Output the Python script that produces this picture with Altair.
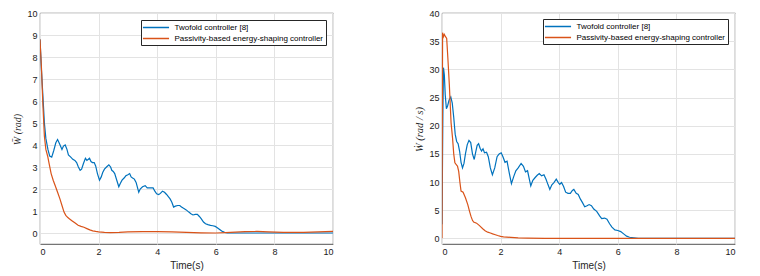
import altair as alt
import pandas as pd

SERIES = ["Twofold controller [8]", "Passivity-based energy-shaping controller"]
COLORS = ["#0072BD", "#D95319"]
X_TICKS = [0, 2, 4, 6, 8, 10]
LEFT_Y_TICKS = [0, 1, 2, 3, 4, 5, 6, 7, 8, 9, 10]
RIGHT_Y_TICKS = [0, 5, 10, 15, 20, 25, 30, 35, 40]
LEFT_Y_TITLE = "W\u0304 (rad)"
RIGHT_Y_TITLE = "\u1E86 (rad / s)"
X_TITLE = "Time(s)"

# ---- left panel: W-bar ----
left_blue_t = [0, 0.05, 0.1, 0.15, 0.2, 0.27, 0.33, 0.4, 0.47, 0.54, 0.6, 0.67, 0.75, 0.8, 0.86,
               0.92, 0.97, 1.05, 1.12, 1.19, 1.25, 1.31, 1.37, 1.42, 1.48, 1.55, 1.6, 1.65, 1.69,
               1.74, 1.79, 1.85, 1.9, 1.96, 2.03, 2.09, 2.14, 2.2, 2.27, 2.35, 2.41, 2.45, 2.5,
               2.55, 2.62, 2.69, 2.74, 2.8, 2.87, 2.93, 3.0, 3.06, 3.11, 3.16, 3.22, 3.28, 3.33,
               3.37, 3.42, 3.5, 3.59, 3.66, 3.72, 3.79, 3.86, 3.92, 3.98, 4.05, 4.11, 4.18, 4.25,
               4.32, 4.38, 4.44, 4.5, 4.56, 4.62, 4.7, 4.77, 4.83, 4.9, 4.99, 5.08, 5.15, 5.22,
               5.3, 5.37, 5.44, 5.5, 5.58, 5.65, 5.73, 5.82, 5.9, 5.98, 6.04, 6.12, 6.2, 6.3,
               6.4, 7.0, 8.0, 9.0, 10.0]
left_blue_v = [8.8, 7.4, 6.2, 5.0, 4.3, 3.8, 3.5, 3.45, 3.75, 4.1, 4.25, 4.05, 3.8, 3.95, 4.0,
               3.8, 3.55, 3.45, 3.35, 3.3, 3.2, 3.0, 2.85, 2.9, 3.15, 3.4, 3.3, 3.35, 3.4,
               3.25, 3.2, 3.2, 3.05, 2.7, 2.4, 2.55, 2.75, 2.9, 3.0, 3.1, 3.0, 2.85, 2.8,
               2.7, 2.4, 2.1, 2.25, 2.4, 2.5, 2.6, 2.65, 2.7, 2.55, 2.5, 2.45, 2.3, 2.05,
               1.85, 2.0, 2.1, 2.15, 2.05, 2.05, 2.05, 2.05, 1.9, 1.78, 1.75, 1.8, 1.9, 1.85,
               1.75, 1.65, 1.55, 1.4, 1.18, 1.22, 1.25, 1.25, 1.18, 1.12, 1.05, 0.95, 0.88, 0.82,
               0.85, 0.85, 0.75, 0.65, 0.5, 0.42, 0.38, 0.35, 0.33, 0.3, 0.25, 0.17, 0.09, 0.03,
               0.01, 0.0, 0.0, 0.0, 0.0]
left_orange_t = [0, 0.05, 0.1, 0.15, 0.2, 0.26, 0.32, 0.38, 0.45, 0.52, 0.6, 0.68, 0.75, 0.82,
                 0.88, 0.95, 1.0, 1.1, 1.2, 1.3, 1.4, 1.5, 1.6, 1.7, 1.8, 1.9, 2.0, 2.2, 2.4,
                 2.7, 3.0, 3.5, 4.0, 4.5, 5.0, 5.5, 6.0, 6.5, 7.0, 7.4, 7.8, 8.3, 9.0, 9.5, 10.0]
left_orange_v = [8.8, 7.5, 5.8, 4.4, 3.8, 3.5, 3.1, 2.7, 2.4, 2.15, 1.85, 1.55, 1.25, 0.95,
                 0.8, 0.7, 0.65, 0.55, 0.45, 0.35, 0.3, 0.26, 0.2, 0.14, 0.1, 0.07, 0.05, 0.03, 0.02,
                 0.03, 0.05, 0.06, 0.06, 0.05, 0.03, 0.01, 0.0, 0.03, 0.06, 0.07, 0.05, 0.03, 0.03, 0.05, 0.07]

# ---- right panel: W-dot ----
right_blue_t = [0, 0.03, 0.05, 0.08, 0.11, 0.15, 0.19, 0.24, 0.3, 0.35, 0.4, 0.45, 0.5, 0.55,
                0.6, 0.65, 0.7, 0.75, 0.8, 0.86, 0.92, 0.98, 1.04, 1.1, 1.15, 1.2, 1.25, 1.3,
                1.35, 1.4, 1.45, 1.52, 1.58, 1.65, 1.72, 1.8, 1.88, 1.95, 2.02, 2.08, 2.15, 2.22,
                2.3, 2.37, 2.45, 2.52, 2.6, 2.7, 2.78, 2.85, 2.92, 2.98, 3.03, 3.1, 3.18, 3.25,
                3.32, 3.4, 3.48, 3.55, 3.62, 3.68, 3.75, 3.82, 3.9, 3.97, 4.02, 4.08, 4.15, 4.22,
                4.3, 4.38, 4.45, 4.5, 4.58, 4.65, 4.72, 4.8, 4.87, 4.95, 5.02, 5.1, 5.18, 5.28,
                5.38, 5.45, 5.55, 5.63, 5.72, 5.8, 5.9, 6.0, 6.1, 6.2, 6.3, 6.4, 6.55, 6.7, 8.0, 10.0]
right_blue_v = [2.5, 22, 30.3, 29, 25.5, 23, 23.5, 24.5, 25.1, 24, 21.5, 18.5, 17.2, 16.8,
                15.5, 13.5, 12.5, 13.3, 15, 16.6, 17.4, 17, 15, 14, 15.3, 16.5, 16.8, 16,
                15.5, 15.9, 15.2, 15.3, 14.5, 12.5, 11.3, 12.5, 14.5, 15, 15.2, 14.5, 13.5, 13.7,
                11.5, 9.7, 11, 12, 12.5, 13.3, 12.8, 11.8, 12, 10.5, 9.3, 10.3, 10.8, 11.2,
                11.5, 11.1, 11.3, 10.5, 9.5, 8.7, 9.5, 9.9, 10.5, 9.9, 9.6, 9.9, 9.2, 8.2,
                8.0, 8.0, 8.5, 8.7, 8.0, 7.8, 7.0, 6.3, 5.6, 5.8, 6.0, 5.8, 5.2, 4.8,
                4.0, 3.5, 3.6, 3.4, 2.6, 2.0, 1.5, 1.4, 1.2, 0.8, 0.4, 0.2, 0.1, 0.0, 0.0, 0.0]
right_orange_t = [0, 0.02, 0.05, 0.08, 0.12, 0.16, 0.2, 0.25, 0.31, 0.36, 0.4, 0.44, 0.5, 0.53,
                  0.57, 0.61, 0.65, 0.72, 0.8, 0.88, 0.94, 0.99, 1.04, 1.08, 1.18, 1.27, 1.39,
                  1.47, 1.56, 1.65, 1.73, 1.82, 1.9, 2.0, 2.1, 2.35, 2.6, 2.92, 3.5, 10.0]
right_orange_v = [0, 36.5, 35.8, 36.2, 35.8, 35.5, 32, 27.3, 20.5, 17.8, 15, 13.4, 13, 12.8,
                  11.9, 10, 8.4, 8.2, 7.2, 6, 4.8, 3.9, 3.2, 2.9, 2.7, 2.3, 1.7,
                  1.35, 1.1, 0.95, 0.8, 0.65, 0.5, 0.35, 0.28, 0.18, 0.1, 0.05, 0.0, 0.0]


def make_df(bt, bv, ot, ov):
    rows = [{"t": t, "v": v, "series": SERIES[0]} for t, v in zip(bt, bv)]
    rows += [{"t": t, "v": v, "series": SERIES[1]} for t, v in zip(ot, ov)]
    return pd.DataFrame(rows)


def panel(df, ydomain, yticks, ytitle, ytitle_size, lx, ly):
    return alt.Chart(df).mark_line(strokeWidth=1.2, clip=True).encode(
        x=alt.X("t:Q", scale=alt.Scale(domain=[0, 10], nice=False),
                axis=alt.Axis(values=X_TICKS, title=X_TITLE, titleFont="Liberation Sans",
                              titleFontSize=10, titleFontWeight="normal", titleColor="#262626",
                              titlePadding=4, labelPadding=3)),
        y=alt.Y("v:Q", scale=alt.Scale(domain=ydomain, nice=False, zero=False),
                axis=alt.Axis(values=yticks, title=ytitle, titleFont="Liberation Serif",
                              titleFontStyle="italic", titleFontSize=ytitle_size,
                              titleFontWeight="normal", titleColor="#262626",
                              titleX=-18, titleY=116, titleAngle=270,
                              titleBaseline="bottom", titleAlign="center",
                              labelPadding=3)),
        color=alt.Color("series:N", sort=SERIES,
                        scale=alt.Scale(domain=SERIES, range=COLORS),
                        legend=alt.Legend(orient="none", legendX=lx, legendY=ly, title=None,
                                          direction="vertical", strokeColor="#262626",
                                          fillColor="white", padding=2,
                                          symbolType="M-2.9,0L2.9,0",
                                          symbolSize=81, symbolStrokeWidth=1.5,
                                          symbolOffset=7.5,
                                          labelFont="Liberation Sans", labelFontSize=8,
                                          labelColor="#000000", labelOffset=13, rowPadding=1)),
    ).properties(width=293, height=231)


left = panel(make_df(left_blue_t, left_blue_v, left_orange_t, left_orange_v),
             [-0.5, 10], LEFT_Y_TICKS, LEFT_Y_TITLE, 10, 101, 7)
right = panel(make_df(right_blue_t, right_blue_v, right_orange_t, right_orange_v),
              [-1, 40], RIGHT_Y_TICKS, RIGHT_Y_TITLE, 10.5, 101, 6)

chart = alt.hconcat(left, right, spacing=79).resolve_scale(
    color="independent"
).resolve_legend(
    color="independent"
).properties(
    padding={"left": 3, "top": 0, "right": 0, "bottom": 0}
).configure_view(
    stroke="#262626", strokeWidth=0.8
).configure_axis(
    grid=True, gridColor="#e3e3e3", domain=False, ticks=False,
    labelFont="Liberation Sans", labelFontSize=9, labelColor="#1a1a1a"
)

chart.save("out.html", embed_options={"renderer": "svg", "actions": False})
